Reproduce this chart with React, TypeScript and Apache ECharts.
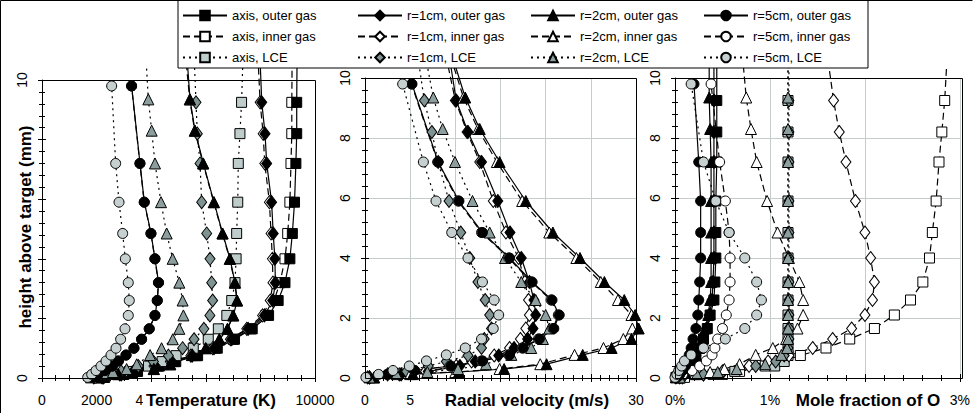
import React, { useEffect, useRef } from 'react';
import * as echarts from 'echarts';

const FONT = '"Liberation Sans", Arial, Helvetica, sans-serif';

// heights above target (mm) for each radial position (last value: line continues just above the frame)
const H_AXIS = [0.02, 0.12, 0.22, 0.4, 0.55, 0.75, 1.0, 1.3, 1.65, 2.1, 2.6, 3.2, 4.0, 4.85, 5.9, 7.2, 8.2, 9.25, 10.4];
const H_R1 = [0.02, 0.12, 0.22, 0.4, 0.55, 0.75, 1.0, 1.3, 1.65, 2.1, 2.6, 3.2, 4.0, 4.85, 5.9, 7.2, 8.2, 9.25, 10.4];
const H_R2 = [0.02, 0.13, 0.2, 0.3, 0.46, 0.77, 1.0, 1.3, 1.65, 2.1, 2.6, 3.2, 4.0, 4.85, 5.9, 7.2, 8.3, 9.35, 10.4];
const H_R5 = [0.02, 0.12, 0.25, 0.4, 0.57, 0.77, 1.0, 1.3, 1.65, 2.1, 2.6, 3.2, 4.0, 4.85, 5.9, 7.2, 9.8];

// Temperature (K)
const T_AXIS_OUTER = [2300, 3000, 3500, 4300, 4900, 5700, 6420, 7050, 7700, 8300, 8650, 8900, 9080, 9170, 9250, 9300, 9330, 9330, 9340];
const T_AXIS_INNER = [2250, 2950, 3450, 4250, 4850, 5650, 6350, 7000, 7650, 8200, 8500, 8720, 8900, 9000, 9080, 9120, 9150, 9150, 9160];
const T_AXIS_LCE = [2000, 2700, 3200, 3900, 4400, 4910, 5540, 6090, 6460, 6770, 6950, 7070, 7110, 7130, 7170, 7190, 7250, 7310, 7350];
const T_R1_OUTER = [2250, 2900, 3400, 4150, 4750, 5500, 6300, 6950, 7550, 8150, 8450, 8550, 8530, 8470, 8410, 8230, 8170, 8050, 8000];
const T_R1_INNER = [2200, 2850, 3350, 4100, 4700, 5450, 6250, 6900, 7500, 8080, 8360, 8460, 8440, 8390, 8330, 8160, 8100, 7990, 7930];
const T_R1_LCE = [1900, 2400, 2900, 3530, 4080, 4630, 5150, 5570, 5930, 6150, 6250, 6215, 6154, 6032, 5849, 5788, 5690, 5641, 5590];
const T_R2_OUTER = [2100, 2800, 3300, 4100, 4700, 5500, 6000, 6500, 6800, 7010, 7150, 7070, 6886, 6618, 6300, 5910, 5604, 5421, 5340];
const T_R2_INNER = [2090, 2790, 3290, 4090, 4690, 5490, 5990, 6490, 6790, 7000, 7140, 7060, 6876, 6608, 6290, 5900, 5594, 5411, 5300];
const T_R2_LCE = [1800, 2300, 2600, 3100, 3470, 3960, 4380, 4790, 5030, 5180, 5150, 5030, 4786, 4567, 4359, 4139, 4017, 3895, 3830];
const T_R5_OUTER = [1850, 2050, 2300, 2580, 2800, 3080, 3370, 3650, 3930, 4140, 4225, 4270, 4139, 3993, 3748, 3590, 3284];
const T_R5_INNER = [1845, 2045, 2295, 2575, 2795, 3075, 3365, 3645, 3925, 4135, 4220, 4265, 4134, 3988, 3743, 3585, 3279];
const T_R5_LCE = [1673, 1820, 1978, 2161, 2344, 2527, 2711, 2880, 3040, 3161, 3198, 3161, 3053, 2955, 2821, 2698, 2552];

// Radial velocity (m/s) — none plotted on the axis
const V_AXIS_OUTER: number[] = [];
const V_AXIS_INNER: number[] = [];
const V_AXIS_LCE: number[] = [];
const V_R1_OUTER = [0.5, 4.0, 7.0, 10.5, 12.2, 14.8, 16.5, 18.0, 18.6, 18.9, 18.7, 18.2, 17.3, 16.05, 14.7, 12.9, 11.4, 10.1, 9.5];
const V_R1_INNER = [0.5, 3.8, 6.7, 10.1, 11.8, 14.3, 16.0, 17.2, 17.8, 18.2, 18.1, 17.7, 17.0, 15.6, 14.2, 12.7, 11.3, 10.0, 9.2];
const V_R1_LCE = [0.3, 2.5, 4.6, 7.0, 9.0, 11.4, 12.9, 13.2, 14.0, 13.8, 13.3, 12.5, 11.6, 10.6, 9.3, 8.1, 7.4, 6.57, 6.0];
const V_R2_OUTER = [1.0, 5.3, 10.4, 15.4, 20.1, 24.1, 27.3, 29.5, 30.3, 29.9, 28.7, 26.5, 23.8, 20.8, 17.8, 14.9, 12.7, 11.1, 10.0];
const V_R2_INNER = [1.0, 5.0, 10.0, 14.9, 19.4, 23.2, 26.4, 28.6, 29.6, 29.5, 28.0, 26.1, 23.4, 20.4, 17.4, 14.6, 12.5, 10.9, 9.8];
const V_R2_LCE = [0.5, 3.5, 6.9, 10.3, 13.4, 16.2, 18.4, 19.7, 20.4, 20.0, 18.9, 17.3, 15.5, 13.8, 11.9, 9.96, 8.6, 7.56, 6.9];
const V_R5_OUTER = [0.2, 2.5, 5.5, 9.5, 13.0, 16.0, 17.5, 19.3, 20.9, 21.5, 20.7, 18.5, 16.0, 13.0, 10.4, 8.1, 5.2];
const V_R5_INNER = [0.2, 2.45, 5.45, 9.4, 12.9, 15.9, 17.4, 19.2, 20.8, 21.4, 20.6, 18.4, 15.9, 12.9, 10.3, 8.05, 5.15];
const V_R5_LCE = [0.1, 1.5, 3.1, 4.9, 6.8, 9.0, 11.1, 12.9, 14.2, 14.8, 14.3, 13.0, 11.4, 9.6, 7.86, 6.46, 4.17];

// Mole fraction of O (%)
const M_AXIS_OUTER = [0.01, 0.05, 0.09, 0.15, 0.19, 0.22, 0.26, 0.3, 0.34, 0.37, 0.41, 0.42, 0.43, 0.43, 0.43, 0.44, 0.44, 0.44, 0.44];
const M_AXIS_INNER = [0.1, 0.5, 0.68, 0.95, 1.12, 1.32, 1.59, 1.84, 2.1, 2.31, 2.48, 2.61, 2.68, 2.71, 2.75, 2.78, 2.81, 2.84, 2.86];
const M_AXIS_LCE = [0.05, 0.4, 0.63, 1.05, 1.15, 1.19, 1.19, 1.19, 1.19, 1.19, 1.19, 1.19, 1.19, 1.19, 1.19, 1.19, 1.19, 1.19, 1.19];
const M_R1_OUTER = [0.01, 0.05, 0.09, 0.15, 0.19, 0.22, 0.26, 0.3, 0.33, 0.36, 0.39, 0.4, 0.41, 0.41, 0.41, 0.41, 0.41, 0.41, 0.41];
const M_R1_INNER = [0.08, 0.3, 0.51, 0.78, 0.98, 1.2, 1.45, 1.66, 1.86, 2.0, 2.08, 2.1, 2.06, 2.0, 1.9, 1.8, 1.73, 1.67, 1.62];
const M_R1_LCE = [0.05, 0.3, 0.5, 0.85, 1.06, 1.15, 1.19, 1.2, 1.2, 1.2, 1.2, 1.2, 1.2, 1.2, 1.2, 1.2, 1.2, 1.2, 1.2];
const M_R2_OUTER = [0.01, 0.05, 0.09, 0.13, 0.18, 0.22, 0.25, 0.29, 0.32, 0.35, 0.37, 0.38, 0.38, 0.38, 0.38, 0.38, 0.37, 0.36, 0.36];
const M_R2_INNER = [0.05, 0.21, 0.37, 0.52, 0.68, 0.85, 1.03, 1.17, 1.29, 1.35, 1.35, 1.31, 1.2, 1.08, 0.97, 0.86, 0.8, 0.75, 0.72];
const M_R2_LCE = [0.05, 0.23, 0.45, 0.65, 0.95, 1.12, 1.18, 1.19, 1.19, 1.19, 1.19, 1.19, 1.19, 1.19, 1.19, 1.19, 1.19, 1.19, 1.19];
const M_R5_OUTER = [0.02, 0.05, 0.08, 0.11, 0.13, 0.15, 0.17, 0.19, 0.22, 0.24, 0.25, 0.26, 0.27, 0.27, 0.27, 0.25, 0.2];
const M_R5_INNER = [0.01, 0.08, 0.18, 0.26, 0.33, 0.39, 0.42, 0.45, 0.5, 0.54, 0.57, 0.58, 0.58, 0.57, 0.53, 0.47, 0.38];
const M_R5_LCE = [0.0, 0.02, 0.04, 0.07, 0.1, 0.17, 0.3, 0.53, 0.735, 0.86, 0.91, 0.86, 0.735, 0.57, 0.43, 0.3, 0.17];

const POSITIONS = ['axis', 'r=1cm', 'r=2cm', 'r=5cm'];
const GAS_TYPES = ['outer gas', 'inner gas', 'LCE'];

const X_TITLES = ['Temperature (K)', 'Radial velocity (m/s)', 'Mole fraction of O'];
const Y_TITLE = 'height above target (mm)';

// tick labels hidden by the axis titles in the original
const X_HIDDEN_LABELS = [[6000, 8000], [10, 15, 20, 25], [2]];
const Y_HIDDEN_LABELS = [[2, 4, 6, 8], [], []];

const HEIGHTS = [H_AXIS, H_R1, H_R2, H_R5];
// PANEL_DATA[panel][position][type]
const PANEL_DATA = [
  [
    [T_AXIS_OUTER, T_AXIS_INNER, T_AXIS_LCE],
    [T_R1_OUTER, T_R1_INNER, T_R1_LCE],
    [T_R2_OUTER, T_R2_INNER, T_R2_LCE],
    [T_R5_OUTER, T_R5_INNER, T_R5_LCE],
  ],
  [
    [V_AXIS_OUTER, V_AXIS_INNER, V_AXIS_LCE],
    [V_R1_OUTER, V_R1_INNER, V_R1_LCE],
    [V_R2_OUTER, V_R2_INNER, V_R2_LCE],
    [V_R5_OUTER, V_R5_INNER, V_R5_LCE],
  ],
  [
    [M_AXIS_OUTER, M_AXIS_INNER, M_AXIS_LCE],
    [M_R1_OUTER, M_R1_INNER, M_R1_LCE],
    [M_R2_OUTER, M_R2_INNER, M_R2_LCE],
    [M_R5_OUTER, M_R5_INNER, M_R5_LCE],
  ],
];

const SYMBOLS = ['rect', 'diamond', 'triangle', 'circle'];
const SYMBOL_SIZES: any[] = [10, [10, 13], 11, 10];
const LCE_FILLS = ['#bfcccc', '#7f9393', '#8c9e9e', '#c6d0d0'];
const TYPE_FILLS = ['#000000', '#ffffff', null];
const TYPE_DASH: any[] = ['solid', [7, 4], [2, 4]];
// drawing order of the gas types: inner first, then outer, then LCE
const DRAW_ORDER = [1, 0, 2];

const GRIDS = [
  { left: 42, top: 80, width: 273, height: 298 },
  { left: 365, top: 78, width: 271, height: 300 },
  { left: 675, top: 78, width: 287, height: 300 },
];

const X_AXES = [
  { max: 10000, interval: 2000, minor: 4, suffix: '', grid: false },
  { max: 30, interval: 5, minor: 5, suffix: '', grid: true },
  { max: 3, interval: 1, minor: 5, suffix: '%', grid: true },
];

export default function App() {
  const ref = useRef<HTMLDivElement>(null);
  useEffect(() => {
    if (!ref.current) return;
    const chart = echarts.init(ref.current, undefined, { renderer: 'svg' });

    const series: any[] = [];
    PANEL_DATA.forEach((panel, pi) => {
      panel.forEach((byType, posi) => {
        DRAW_ORDER.forEach((ti) => {
          const vals = byType[ti];
          const h = HEIGHTS[posi];
          series.push({
            type: 'line',
            name: `${POSITIONS[posi]}, ${GAS_TYPES[ti]}`,
            xAxisIndex: pi,
            yAxisIndex: pi,
            data: vals.map((v, i) => (h[i] > 10 ? { value: [v, h[i]], symbol: 'none' } : [v, h[i]])),
            symbol: SYMBOLS[posi],
            symbolSize: SYMBOL_SIZES[posi],
            showSymbol: true,
            clip: false,
            lineStyle: { color: '#000', width: 1.2, type: TYPE_DASH[ti] },
            itemStyle: { color: TYPE_FILLS[ti] ?? LCE_FILLS[posi], borderColor: '#000', borderWidth: 1 },
            emphasis: { disabled: true },
          });
        });
      });
    });

    const legendLefts = [182, 357, 530, 703];
    const legends = POSITIONS.map((p, ci) => ({
      left: legendLefts[ci],
      top: 9,
      z: 120,
      orient: 'vertical',
      padding: 0,
      itemWidth: 44,
      itemHeight: 12,
      itemGap: 8,
      selectedMode: false,
      data: GAS_TYPES.map((t) => `${p}, ${t}`),
      textStyle: { fontSize: 13, color: '#000', fontFamily: FONT, lineHeight: 12 },
    }));

    const tickStyle = { lineStyle: { color: '#000', width: 1 } };

    const xMain = X_AXES.map((a, i) => ({
      type: 'value',
      gridIndex: i,
      position: 'bottom',
      min: 0,
      max: a.max,
      interval: a.interval,
      axisLine: { show: true, onZero: false, lineStyle: { color: '#000', width: 1 } },
      axisTick: { show: true, length: 4, inside: false, ...tickStyle },
      minorTick: { show: true, splitNumber: a.minor, length: 3, ...tickStyle },
      splitLine: { show: a.grid, lineStyle: { color: '#c5cccc', width: 1 } },
      axisLabel: {
        formatter: (v: number) => (X_HIDDEN_LABELS[i].includes(v) ? '' : `${v}${a.suffix}`),
        fontSize: 14, color: '#000', margin: 15, fontFamily: FONT,
      },
    }));
    const xInner = X_AXES.map((a, i) => ({
      type: 'value',
      gridIndex: i,
      position: 'bottom',
      min: 0,
      max: a.max,
      interval: a.interval,
      axisLine: { show: false, onZero: false },
      axisTick: { show: true, length: 4, inside: true, ...tickStyle },
      minorTick: { show: true, splitNumber: a.minor, length: 3, ...tickStyle },
      splitLine: { show: false },
      axisLabel: { show: false },
    }));
    const yMain = GRIDS.map((g, i) => ({
      type: 'value',
      gridIndex: i,
      position: 'left',
      min: 0,
      max: 10,
      interval: 2,
      axisLine: { show: true, onZero: false, lineStyle: { color: '#000', width: 1 } },
      axisTick: { show: true, length: 4, inside: false, ...tickStyle },
      minorTick: { show: true, splitNumber: 5, length: 3, ...tickStyle },
      splitLine: { show: i > 0, lineStyle: { color: '#c5cccc', width: 1 } },
      axisLabel: {
        rotate: 90, fontSize: 14, color: '#000', margin: 13, fontFamily: FONT,
        formatter: (v: number) => (Y_HIDDEN_LABELS[i].includes(v) ? '' : `${v}`),
      },
    }));
    const yInner = GRIDS.map((g, i) => ({
      type: 'value',
      gridIndex: i,
      position: 'left',
      min: 0,
      max: 10,
      interval: 2,
      axisLine: { show: false, onZero: false },
      axisTick: { show: true, length: 4, inside: true, ...tickStyle },
      minorTick: { show: true, splitNumber: 5, length: 3, ...tickStyle },
      splitLine: { show: false },
      axisLabel: { show: false },
    }));

    const option: any = {
      animation: false,
      backgroundColor: '#fff',
      textStyle: { fontFamily: FONT },
      legend: legends,
      grid: GRIDS.map((g) => ({ ...g, containLabel: false })),
      xAxis: [...xMain, ...xInner],
      yAxis: [...yMain, ...yInner],
      series,
      graphic: [
        // white band above the legend box and plots (lines stop at the legend)
        { type: 'rect', z: 99, shape: { x: 0, y: 0, width: 973, height: 68 }, style: { fill: '#fff' } },
        // outer frame (left, top)
        { type: 'polyline', z: 100, shape: { points: [[0.5, 413], [0.5, 0.5], [972.5, 0.5]] }, style: { stroke: '#000', lineWidth: 1, fill: 'none' } },
        // legend box
        { type: 'rect', z: 100, shape: { x: 178, y: 0.5, width: 690, height: 67.5 }, style: { stroke: '#000', lineWidth: 1, fill: 'none' } },
        // plot boxes
        ...GRIDS.map((g) => ({
          type: 'rect', z: 100,
          shape: { x: g.left + 0.5, y: g.top + 0.5, width: g.width, height: g.height },
          style: { stroke: '#000', lineWidth: 1, fill: 'none' },
        })),
        // x-axis titles
        ...[211, 527, 868].map((cx, i) => ({
          type: 'text', z: 100, x: cx, y: 400,
          style: {
            text: X_TITLES[i], fontSize: 17, fontWeight: 'bold', fontFamily: FONT, fill: '#000',
            align: 'center', verticalAlign: 'middle', backgroundColor: '#fff', padding: [1, 3],
          },
        })),
        // y-axis title
        {
          type: 'text', z: 100, x: 25, y: 227, rotation: Math.PI / 2,
          style: {
            text: Y_TITLE, fontSize: 17, fontWeight: 'bold', fontFamily: FONT, fill: '#000',
            align: 'center', verticalAlign: 'middle', backgroundColor: '#fff', padding: [0, 4],
          },
        },
      ],
    };

    chart.setOption(option);
    return () => chart.dispose();
  }, []);

  return (
    <div
      ref={ref}
      style={{ position: 'absolute', left: 0, top: 0, width: 973, height: 413, background: '#fff' }}
    />
  );
}
